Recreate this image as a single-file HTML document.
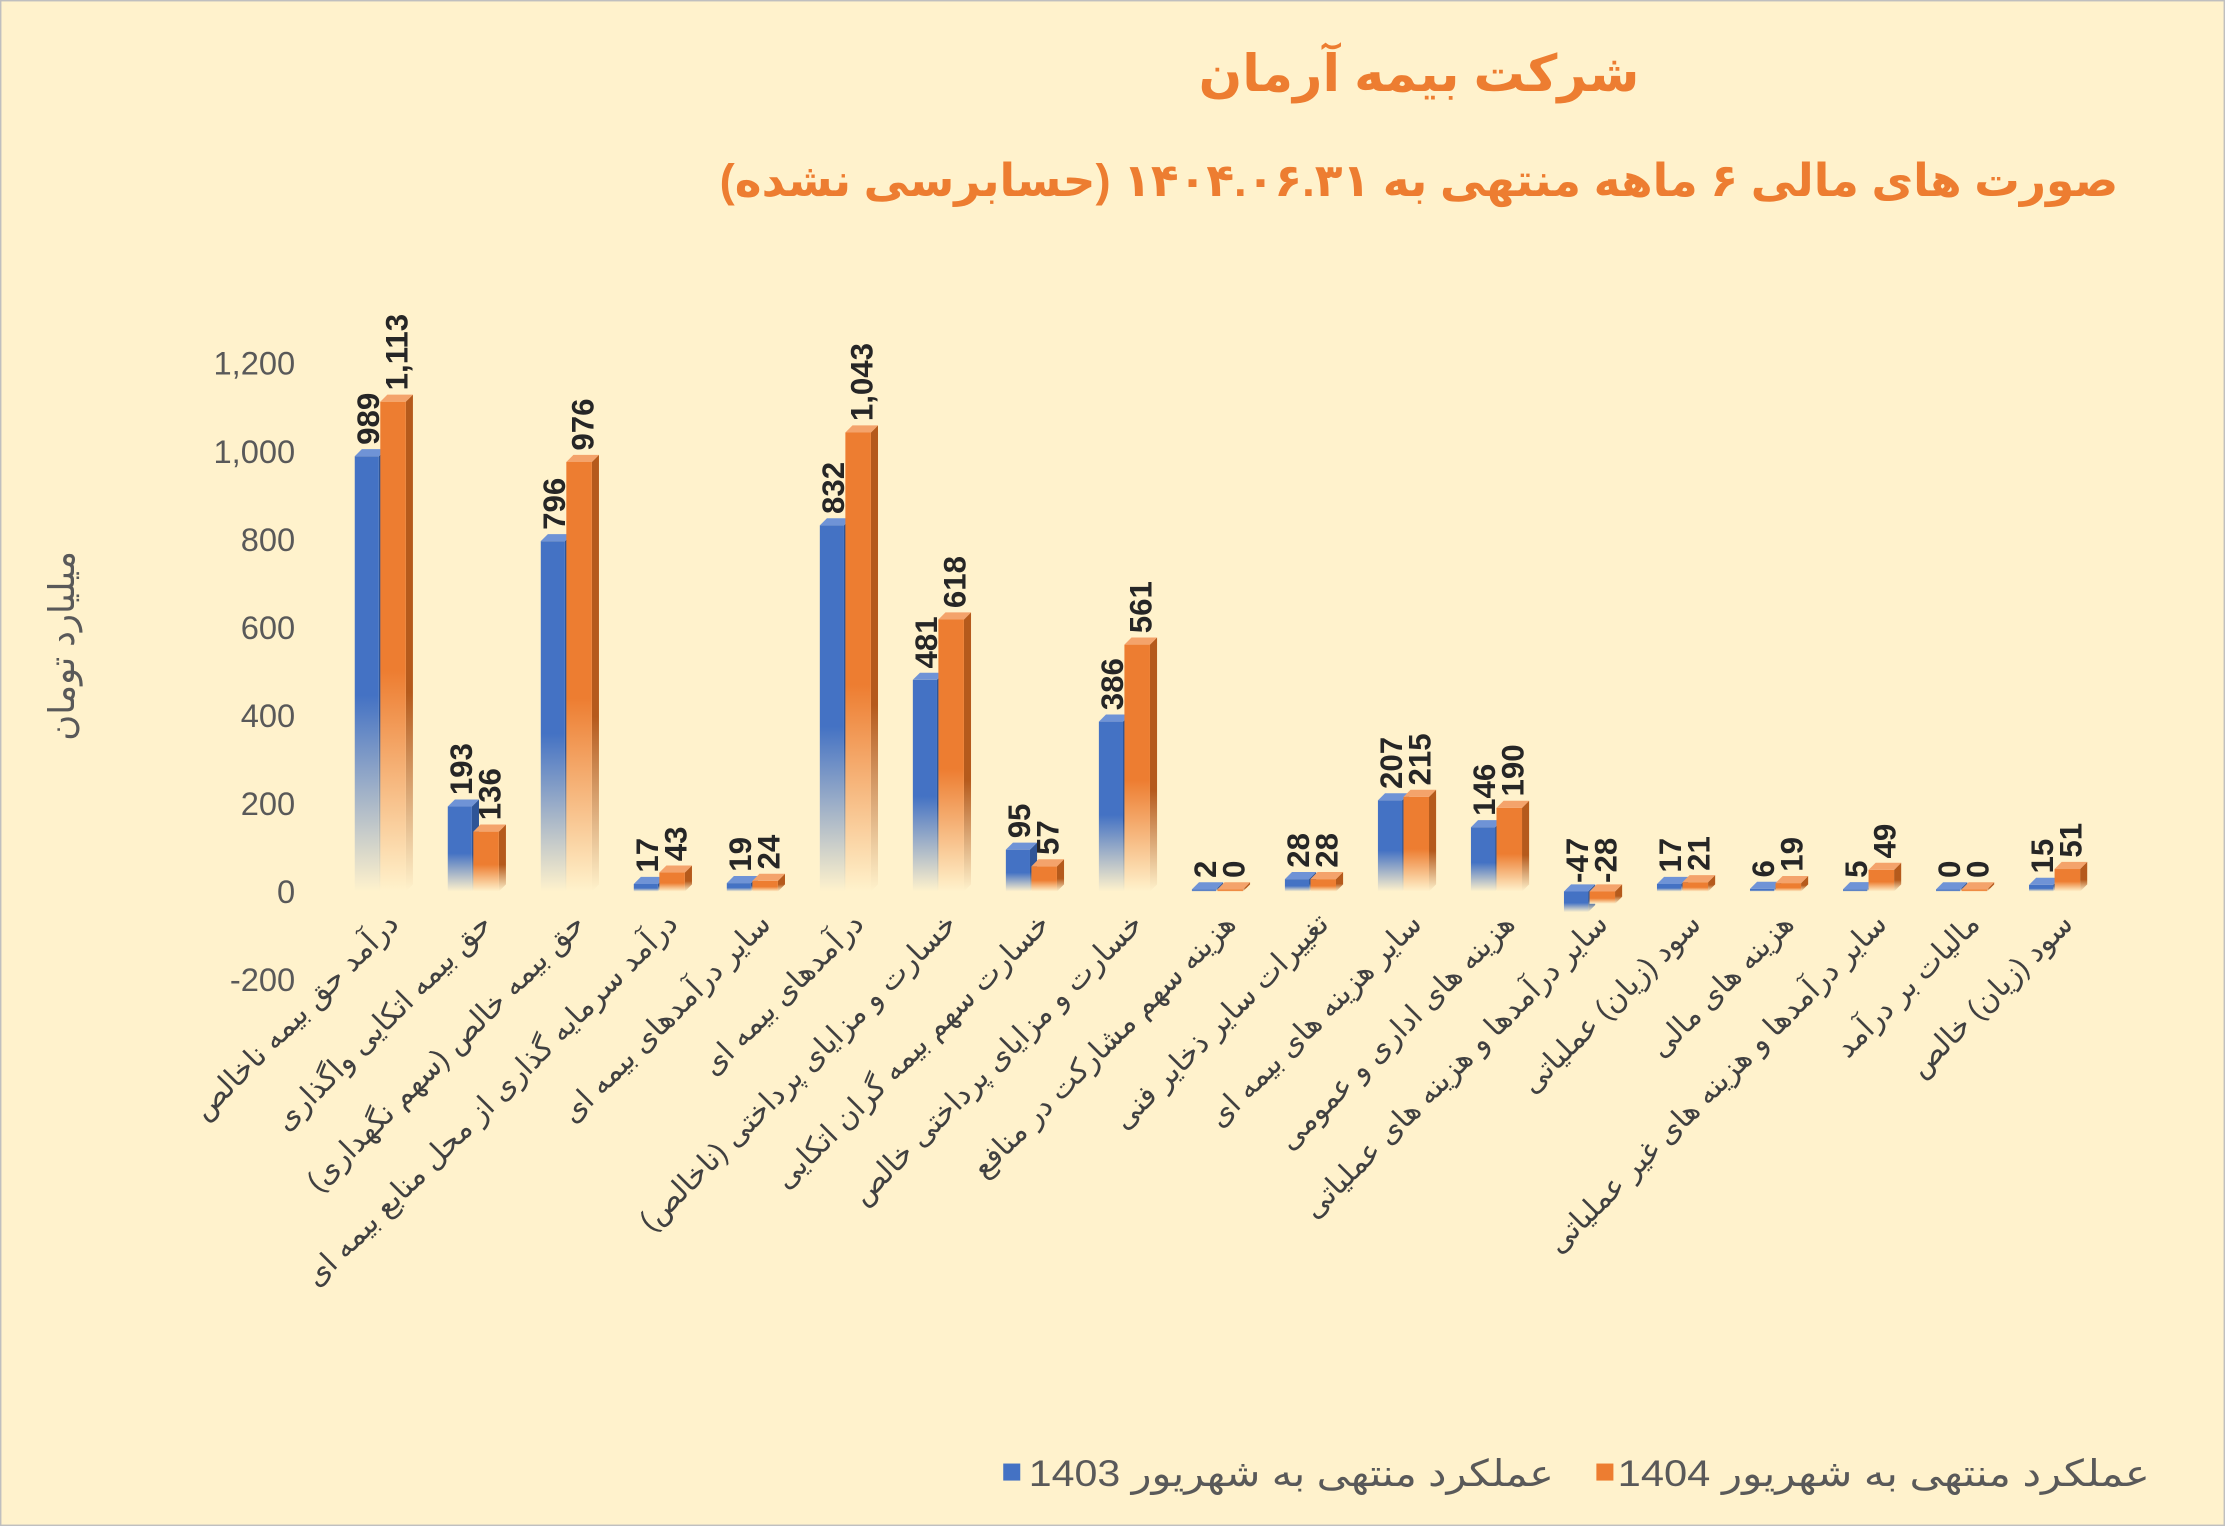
<!DOCTYPE html>
<html><head><meta charset="utf-8">
<style>
html,body{margin:0;padding:0;background:#FFF2CC;}
svg{display:block;}
text{font-family:"Liberation Sans","Noto Sans CJK SC","DejaVu Sans",sans-serif;}
</style></head>
<body>
<svg id="c" width="2225" height="1526" viewBox="0 0 1568 1075" preserveAspectRatio="none" xmlns="http://www.w3.org/2000/svg">
<defs>
<linearGradient id="gb" x1="0" y1="0" x2="0" y2="1">
<stop offset="0" stop-color="#4472C4"/><stop offset="0.55" stop-color="#4472C4"/><stop offset="1" stop-color="#FFF2CC"/></linearGradient>
<linearGradient id="go" x1="0" y1="0" x2="0" y2="1">
<stop offset="0" stop-color="#ED7D31"/><stop offset="0.55" stop-color="#ED7D31"/><stop offset="1" stop-color="#FFF2CC"/></linearGradient>
<linearGradient id="gbs" x1="0" y1="0" x2="0" y2="1">
<stop offset="0" stop-color="#2F5597"/><stop offset="0.6" stop-color="#2F5597"/><stop offset="1" stop-color="#FFF2CC"/></linearGradient>
<linearGradient id="gos" x1="0" y1="0" x2="0" y2="1">
<stop offset="0" stop-color="#B55A1C"/><stop offset="0.6" stop-color="#B55A1C"/><stop offset="1" stop-color="#FFF2CC"/></linearGradient>
</defs>
<rect x="0.5" y="0.5" width="1567" height="1074" fill="#FFF2CC" stroke="#BFBFBF"/>
<text x="1000" y="64" text-anchor="middle" font-size="36" font-weight="bold" fill="#ED7D31">شرکت بیمه آرمان</text>
<text x="1000" y="138" text-anchor="middle" font-size="32" font-weight="bold" fill="#ED7D31" direction="rtl" unicode-bidi="embed">صورت های مالی ۶ ماهه منتهی به ۱۴۰۴.۰۶.۳۱ (حسابرسی نشده)</text>
<g id="yax" font-size="23" fill="#595959" text-anchor="end"></g>
<text transform="translate(52,455) rotate(-90)" text-anchor="middle" font-size="25" fill="#595959">میلیارد تومان</text>
<g id="bars"></g>
<g id="cats" font-size="21" fill="#404040"></g>
<rect x="707" y="1031" width="12" height="12" fill="#4472C4"/>
<text x="1095" y="1047" text-anchor="end" font-size="26" fill="#595959" textLength="370" lengthAdjust="spacingAndGlyphs">عملکرد منتهی به شهریور 1403</text>
<rect x="1125" y="1031" width="12" height="12" fill="#ED7D31"/>
<text x="1515" y="1047" text-anchor="end" font-size="26" fill="#595959" textLength="375" lengthAdjust="spacingAndGlyphs">عملکرد منتهی به شهریور 1404</text>
</svg>
<script>
const NS="http://www.w3.org/2000/svg";
function el(p,t,a,txt){const e=document.createElementNS(NS,t);for(const k in a)e.setAttribute(k,a[k]);if(txt!==undefined)e.textContent=txt;p.appendChild(e);return e;}
const Y=v=>628-v*0.31;
const yax=document.getElementById('yax');
[-200,0,200,400,600,800,1000,1200].forEach(v=>el(yax,'text',{x:208,y:Y(v)+8},v.toLocaleString('en-US')));
const b=[989,193,796,17,19,832,481,95,386,2,28,207,146,-47,17,6,5,0,15];
const o=[1113,136,976,43,24,1043,618,57,561,0,28,215,190,-28,21,19,49,0,51];
const cats=["درآمد حق بیمه ناخالص","حق بیمه اتکایی واگذاری","حق بیمه خالص (سهم نگهداری)","درآمد سرمایه گذاری از محل منابع بیمه ای","سایر درآمدهای بیمه ای","درآمدهای بیمه ای","خسارت و مزایای پرداختی (ناخالص)","خسارت سهم بیمه گران اتکایی","خسارت و مزایای پرداختی خالص","هزینه سهم مشارکت در منافع","تغییرات سایر ذخایر فنی","سایر هزینه های بیمه ای","هزینه های اداری و عمومی","سایر درآمدها و هزینه های عملیاتی","سود (زیان) عملیاتی","هزینه های مالی","سایر درآمدها و هزینه های غیر عملیاتی","مالیات بر درآمد","سود (زیان) خالص"];
const g=document.getElementById('bars'),cg=document.getElementById('cats');
const d=5;
function bar(x0,w,v,f,s,top){
  let yt=Y(Math.max(v,0)),yb=Y(Math.min(v,0));
  if(yb-yt<1.5){yt=yb-1.5;}
  el(g,'polygon',{points:`${x0+w},${yt} ${x0+w+d},${yt-d} ${x0+w+d},${yb-d} ${x0+w},${yb}`,fill:`url(#${s})`});
  el(g,'rect',{x:x0,y:yt,width:w,height:yb-yt,fill:`url(#${f})`});
  el(g,'polygon',{points:`${x0},${yt} ${x0+d},${yt-d} ${x0+w+d},${yt-d} ${x0+w},${yt}`,fill:top});
  return yt;
}
for(let i=0;i<19;i++){
  const c=270+65.55*i;
  const t1=bar(c-20,17,b[i],'gb','gbs','#6F93D6');
  const t2=bar(c-2,18,o[i],'go','gos','#F4A36B');
  const lb=b[i]<0?Y(0)-6:t1-8, lo=o[i]<0?Y(0)-6:t2-8;
  el(g,'text',{transform:`translate(${c-3},${lb}) rotate(-90)`,'font-size':22,'font-weight':'bold',fill:'#262626'},b[i].toLocaleString('en-US'));
  el(g,'text',{transform:`translate(${c+17},${lo}) rotate(-90)`,'font-size':22,'font-weight':'bold',fill:'#262626'},o[i].toLocaleString('en-US'));
  el(cg,'text',{transform:`translate(${c+12},${652}) rotate(-45)`,'text-anchor':'end'},cats[i]);
}
</script>
</body></html>
